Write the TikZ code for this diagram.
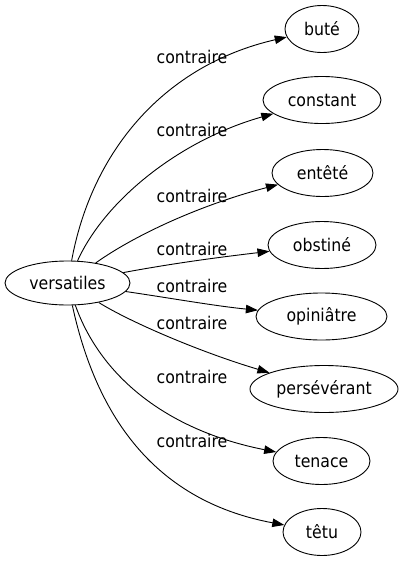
\documentclass[tikz,border=0pt]{standalone}
\usepackage{fontspec}
\setmainfont{DejaVu Sans Condensed}
\usetikzlibrary{shapes.geometric,arrows.meta}
\begin{document}
\begin{tikzpicture}[x=1pt,y=-1pt,
  word/.style={draw,ellipse,inner sep=0pt,line width=0.9pt,font=\fontsize{17.5}{20}\selectfont},
  rel/.style={font=\fontsize{17.5}{20}\selectfont,inner sep=0pt},
  edge/.style={draw,line width=0.9pt,-{Triangle[length=12pt,width=8.5pt]}}]
\useasboundingbox (0,0) rectangle (403,563);
\node[word,minimum width=125pt,minimum height=44pt] (v) at (67.5,283) {versatiles};
\node[word,minimum width=74pt,minimum height=47pt] (bute) at (322,29) {buté};
\node[word,minimum width=118pt,minimum height=47pt] (constant) at (322,100) {constant};
\node[word,minimum width=101pt,minimum height=47pt] (entete) at (322.5,173) {entêté};
\node[word,minimum width=108pt,minimum height=47pt] (obstine) at (322,245) {obstiné};
\node[word,minimum width=131pt,minimum height=47pt] (opiniatre) at (321.5,316.5) {opiniâtre};
\node[word,minimum width=148pt,minimum height=47pt] (perseverant) at (324,389) {persévérant};
\node[word,minimum width=97pt,minimum height=47pt] (tenace) at (321.5,461) {tenace};
\node[word,minimum width=78pt,minimum height=47pt] (tetu) at (322,532) {têtu};

\path[edge] (v) .. controls (92,150) and (165,65) .. (bute);
\path[edge] (v) .. controls (105,200) and (180,140) .. (constant);
\path[edge] (v) .. controls (135,235) and (200,205) .. (entete);
\path[edge] (v) .. controls (180,262) and (230,256) .. (obstine);
\path[edge] (v) .. controls (170,298) and (215,306) .. (opiniatre);
\path[edge] (v) .. controls (130,322) and (200,352) .. (perseverant);
\path[edge] (v) .. controls (100,375) and (165,430) .. (tenace);
\path[edge] (v) .. controls (95,410) and (150,500) .. (tetu);

\node[rel] (l1) at (192,57) {contraire};
\node[rel] (l2) at (192,130) {contraire};
\node[rel] (l3) at (192,196) {contraire};
\node[rel] (l4) at (192,249) {contraire};
\node[rel] (l5) at (192,286) {contraire};
\node[rel] (l6) at (192,323) {contraire};
\node[rel] (l7) at (192,377) {contraire};
\node[rel] (l8) at (192,441) {contraire};
\end{tikzpicture}
\end{document}
